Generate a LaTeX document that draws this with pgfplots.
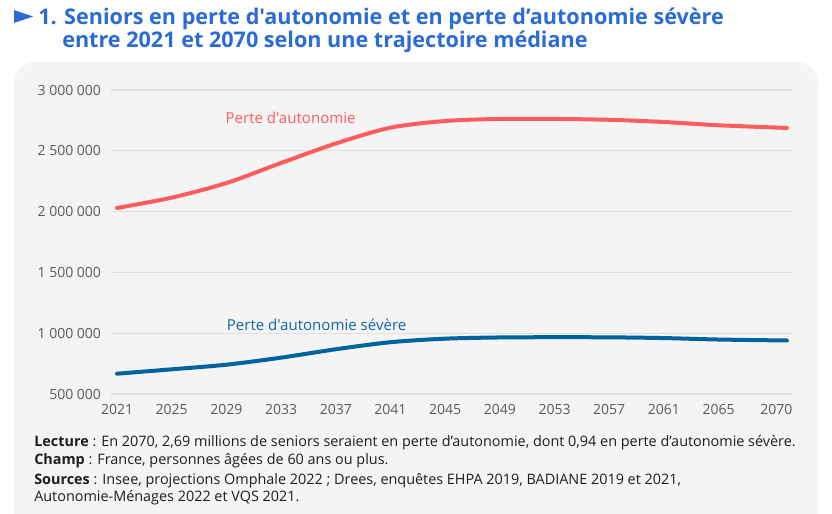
\documentclass[border=0pt]{standalone}
\usepackage{fontspec}
\setmainfont{Open Sans}[Ligatures=TeXOff]
\usepackage{pgfplots}
\pgfplotsset{compat=1.18}
\definecolor{titleblue}{HTML}{2B6BD6}
\definecolor{panel}{HTML}{F4F4F4}
\definecolor{gridc}{HTML}{E0E0E0}
\definecolor{redl}{HTML}{FF5C5F}
\definecolor{bluel}{HTML}{00639E}
\definecolor{bluelab}{HTML}{1467A3}
\definecolor{tickc}{HTML}{5A5A5A}
\definecolor{capc}{HTML}{1E1E1E}
\begin{document}
\begin{tikzpicture}
\begin{scope}[x=0.75pt,y=-0.75pt]
\useasboundingbox (0,0) rectangle (832,514);
\fill[white] (0,0) rectangle (832,514);
\begin{scope}
\clip (0,0) rectangle (832,514);
\fill[panel, rounded corners=16pt] (14,62) rectangle (818,560);
\end{scope}
% title
\fill[titleblue] (14,10) -- (33,16.5) -- (14,23) -- cycle;
\node[anchor=base west, inner sep=0, text=titleblue, font=\bfseries\fontsize{16.2}{19}\selectfont] at (38,24) {1. Seniors en perte d'autonomie et en perte d’autonomie sévère};
\node[anchor=base west, inner sep=0, text=titleblue, font=\bfseries\fontsize{16.2}{19}\selectfont] at (62,47) {entre 2021 et 2070 selon une trajectoire médiane};
% caption
\begin{scope}[every node/.style={anchor=base west, inner sep=0, text=capc, font=\fontsize{10.8}{12}\selectfont}]
\node at (34,446) {\textbf{Lecture} : En 2070, 2,69 millions de seniors seraient en perte d’autonomie, dont 0,94 en perte d’autonomie sévère.};
\node at (34,464.3) {\textbf{Champ} : France, personnes âgées de 60 ans ou plus.};
\node at (34,484.3) {\textbf{Sources} : Insee, projections Omphale 2022 ; Drees, enquêtes EHPA 2019, BADIANE 2019 et 2021,};
\node at (34,501.5) {Autonomie-Ménages 2022 et VQS 2021.};
\end{scope}
\end{scope}
% axis
\begin{axis}[
  at={(83.25pt,-295.5pt)}, anchor=south west,
  scale only axis, width=510.75pt, height=228pt,
  xmin=2020.56, xmax=2070.37,
  ymin=500000, ymax=3000000,
  scaled y ticks=false,
  axis y line*=left, axis x line*=bottom,
  axis line style={draw=none},
  major tick length=0pt,
  ymajorgrids, grid style={gridc, line width=0.9pt},
  ytick={500000,1000000,1500000,2000000,2500000,3000000},
  yticklabels={500 000,1 000 000,1 500 000,2 000 000,2 500 000,3 000 000},
  xtick={2021,2025,2029,2033,2037,2041,2045,2049,2053,2057,2061,2065},
  xticklabels={2021,2025,2029,2033,2037,2041,2045,2049,2053,2057,2061,2065},
  extra x ticks={2070}, extra x tick labels={2070},
  extra x tick style={xticklabel style={xshift=-8pt}, grid=none},
  tick label style={font=\fontsize{10.5}{12}\selectfont, text=tickc},
  yticklabel style={xshift=-4pt},
  xticklabel style={yshift=-4pt},
  clip=false,
]
\addplot[redl, line width=3pt, smooth, line cap=round] coordinates {
(2021,2030000) (2025,2115000) (2029,2235000) (2033,2400000) (2037,2560000)
(2041,2690000) (2045,2745000) (2049,2762000) (2053,2762000) (2057,2755000)
(2061,2737000) (2065,2710000) (2070,2688000)};
\addplot[bluel, line width=3pt, smooth, line cap=round] coordinates {
(2021,667000) (2025,703000) (2029,741000) (2033,799000) (2037,868000)
(2041,926000) (2045,955000) (2049,965000) (2053,967000) (2057,966000)
(2061,960000) (2065,948000) (2070,940000)};
\node[text=redl, font=\fontsize{11.3}{13}\selectfont] at (axis cs:2033.7,2770000) {Perte d'autonomie};
\node[text=bluelab, font=\fontsize{11.3}{13}\selectfont] at (axis cs:2035.6,1067000) {Perte d'autonomie sévère};
\end{axis}
\end{tikzpicture}
\end{document}
